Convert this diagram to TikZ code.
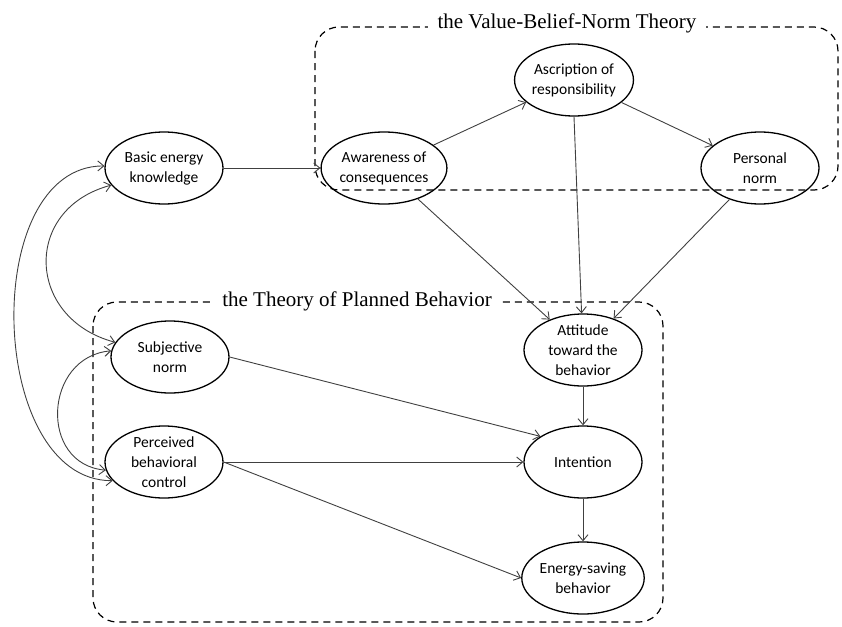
\documentclass[tikz,border=0pt]{standalone}
\usepackage{fontspec}
\setmainfont{Liberation Serif}
\newfontfamily\conceptfont{Carlito}
\usetikzlibrary{shapes.geometric,arrows.meta}
\tikzset{
  concept/.style={ellipse, draw, line width=1.3pt, minimum width=118pt, minimum height=72pt,
    inner sep=0pt, align=center, font=\conceptfont\fontsize{15.5}{20}\selectfont},
  theory/.style={draw, line width=1.2pt, dash pattern=on 7pt off 5pt, rounded corners=24pt},
  theorytitle/.style={fill=white, inner xsep=10pt, inner ysep=3pt, font=\fontsize{21}{25}\selectfont},
  link/.style={-{Straight Barb[length=6pt,width=10pt,line width=0.9pt]}, draw=black!75, line width=0.9pt}
}
\begin{document}
\begin{tikzpicture}[x=1pt,y=-1pt]
      \useasboundingbox (0,0) rectangle (842,626);
      \draw[theory] (315,27) rectangle (838,190);
      \draw[theory] (93,302) rectangle (663,622);
      \node[theorytitle] (vbn) at (567,23) {the Value-Belief-Norm Theory};
      \node[theorytitle] (tpb) at (357,301) {the Theory of Planned Behavior};
      \draw
        (164,168) node[concept] (bek){Basic energy\\knowledge}
        (384,168) node[concept] (aoc){Awareness of\\consequences}
        (574,80) node[concept] (aor){Ascription of\\responsibility}
        (760,168) node[concept] (pn){Personal\\norm}
        (583,350) node[concept] (att){Attitude\\toward the\\behavior}
        (583,462) node[concept] (int){Intention}
        (583,578) node[concept] (esb){Energy-saving\\behavior}
        (170,357) node[concept] (sn){Subjective\\norm}
        (164,462) node[concept] (pbc){Perceived\\behavioral\\control};
      \begin{scope}[link]
        \draw (bek) to (aoc);
        \draw (aoc) to (aor);
        \draw (aor) to (pn);
        \draw (aoc) to (att);
        \draw (aor.south) to (att);
        \draw (pn) to (att);
        \draw (att) to (int);
        \draw (int) to (esb);
        \draw (sn.east) to (int.149);
        \draw (pbc.east) to (int.west);
        \draw (pbc.east) to (esb.west);
      \end{scope}
      \begin{scope}[link, {Straight Barb[length=6pt,width=10pt,line width=0.9pt]}-{Straight Barb[length=6pt,width=10pt,line width=0.9pt]}]
        \draw (bek.178) to[out=180, in=180, looseness=1.02] (pbc.200);
        \draw (bek.198) to[out=195, in=165, looseness=1.5] (sn.165);
        \draw (sn.174) to[out=185, in=175, looseness=1.45] (pbc.188);
      \end{scope}
    \end{tikzpicture}
\end{document}
